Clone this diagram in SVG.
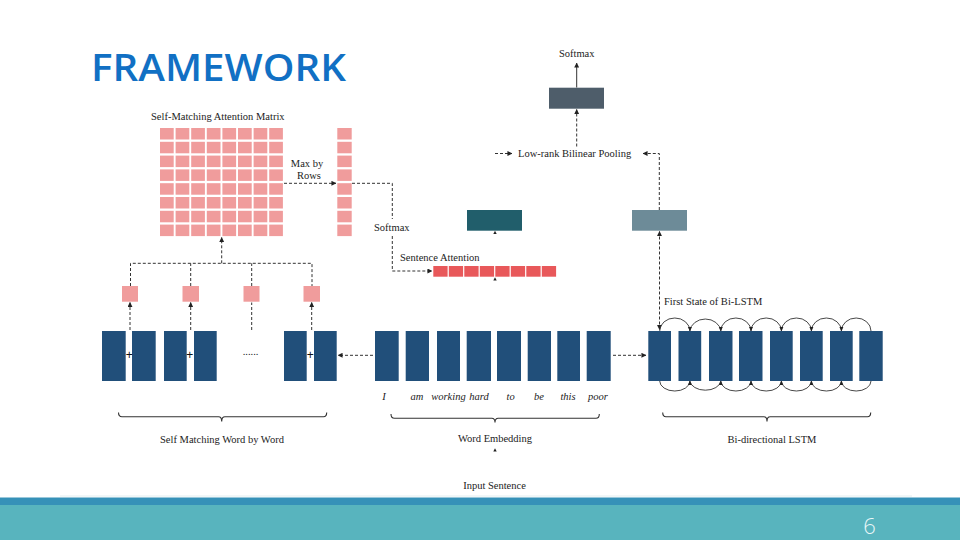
<svg xmlns="http://www.w3.org/2000/svg" xmlns:xlink="http://www.w3.org/1999/xlink" width="960" height="540" viewBox="0 0 960 540">
<style>
.lbl{font-family:"Liberation Serif","Times New Roman",serif;font-size:10.5px;fill:#222}
.wd{font-family:"Liberation Serif","Times New Roman",serif;font-size:10.5px;font-style:italic;fill:#222}
.pl{font-family:"Liberation Sans",Arial,sans-serif;font-size:12px;fill:#111}
.mc{fill:#F09C9C}
.sa{fill:#E8585A}
.nv{fill:#214F7A}
.dash{fill:none;stroke:#333;stroke-width:1;stroke-dasharray:3 2}
.solid{fill:none;stroke:#333;stroke-width:1}
.brk{fill:none;stroke:#333;stroke-width:1.1}
.arc{fill:none;stroke:#333;stroke-width:0.9}
.ah{fill:#222}
</style>
<defs>
<marker id="arr" viewBox="0 0 6 6" refX="5.5" refY="3" markerWidth="5" markerHeight="5" markerUnits="userSpaceOnUse" orient="auto-start-reverse">
<path d="M0,0 L6,3 L0,6 z" fill="#222"/>
</marker>
<g id="mrow">
<rect class="mc" x="160" y="0" width="13.7" height="11.5"/>
<rect class="mc" x="175.6" y="0" width="13.7" height="11.5"/>
<rect class="mc" x="191.2" y="0" width="13.7" height="11.5"/>
<rect class="mc" x="206.8" y="0" width="13.7" height="11.5"/>
<rect class="mc" x="222.4" y="0" width="13.7" height="11.5"/>
<rect class="mc" x="238" y="0" width="13.7" height="11.5"/>
<rect class="mc" x="253.6" y="0" width="13.7" height="11.5"/>
<rect class="mc" x="269.2" y="0" width="13.7" height="11.5"/>
</g>
</defs>
<rect x="0" y="0" width="960" height="540" fill="#ffffff"/>

<g id="title">
<text x="91" y="80.5" font-family="'Open Sans','Liberation Sans',sans-serif" font-weight="600" font-size="37" fill="#1170C4" textLength="255" lengthAdjust="spacingAndGlyphs">FRAMEWORK</text>
</g>

<g id="attention-matrix">
<text class="lbl" x="151" y="119.5">Self-Matching  Attention Matrix</text>
<use xlink:href="#mrow" href="#mrow" y="128"/>
<use xlink:href="#mrow" href="#mrow" y="141.8"/>
<use xlink:href="#mrow" href="#mrow" y="155.6"/>
<use xlink:href="#mrow" href="#mrow" y="169.4"/>
<use xlink:href="#mrow" href="#mrow" y="183.2"/>
<use xlink:href="#mrow" href="#mrow" y="197"/>
<use xlink:href="#mrow" href="#mrow" y="210.8"/>
<use xlink:href="#mrow" href="#mrow" y="224.6"/>
</g>

<g id="max-vector">
<rect class="mc" x="337.3" y="128" width="14.4" height="11.5"/>
<rect class="mc" x="337.3" y="141.8" width="14.4" height="11.5"/>
<rect class="mc" x="337.3" y="155.6" width="14.4" height="11.5"/>
<rect class="mc" x="337.3" y="169.4" width="14.4" height="11.5"/>
<rect class="mc" x="337.3" y="183.2" width="14.4" height="11.5"/>
<rect class="mc" x="337.3" y="197" width="14.4" height="11.5"/>
<rect class="mc" x="337.3" y="210.8" width="14.4" height="11.5"/>
<rect class="mc" x="337.3" y="224.6" width="14.4" height="11.5"/>
</g>

<g id="sentence-attention">
<text class="lbl" x="400" y="261">Sentence  Attention</text>
<rect class="sa" x="433.3" y="266" width="14.3" height="10.7"/>
<rect class="sa" x="448.8" y="266" width="14.3" height="10.7"/>
<rect class="sa" x="464.3" y="266" width="14.3" height="10.7"/>
<rect class="sa" x="479.8" y="266" width="14.3" height="10.7"/>
<rect class="sa" x="495.3" y="266" width="14.3" height="10.7"/>
<rect class="sa" x="510.8" y="266" width="14.3" height="10.7"/>
<rect class="sa" x="526.3" y="266" width="14.3" height="10.7"/>
<rect class="sa" x="541.8" y="266" width="14.3" height="10.7"/>
</g>

<g id="output-node">
<rect x="549" y="87.7" width="55" height="21" fill="#4E5D6A"/>
</g>
<g id="sentence-vector">
<rect x="467" y="210" width="55" height="20.7" fill="#215E6B"/>
</g>
<g id="lstm-state">
<rect x="632" y="210" width="55" height="20.7" fill="#6D8B98"/>
</g>

<g id="match-squares">
<rect class="mc" x="122" y="286" width="16" height="15.7"/>
<rect class="mc" x="182.5" y="286" width="16.5" height="15.7"/>
<rect class="mc" x="243.5" y="286" width="16" height="15.7"/>
<rect class="mc" x="303.5" y="286" width="16.5" height="15.7"/>
</g>

<g id="self-matching">
<rect class="nv" x="102" y="331" width="23.7" height="50"/>
<rect class="nv" x="132" y="331" width="23.7" height="50"/>
<rect class="nv" x="164" y="331" width="22.7" height="50"/>
<rect class="nv" x="194" y="331" width="22.7" height="50"/>
<rect class="nv" x="284" y="331" width="22.7" height="50"/>
<rect class="nv" x="314" y="331" width="22.7" height="50"/>
<text class="pl" x="129.3" y="358.5" text-anchor="middle">+</text>
<text class="pl" x="189.7" y="358.5" text-anchor="middle">+</text>
<text class="pl" x="310.3" y="359" text-anchor="middle">+</text>
<text class="lbl" x="250.5" y="355" text-anchor="middle" font-size="9">......</text>
</g>

<g id="word-embedding">
<rect class="nv" x="375" y="331" width="23.7" height="50"/>
<rect class="nv" x="405.7" y="331" width="23.3" height="50"/>
<rect class="nv" x="437" y="331" width="23" height="50"/>
<rect class="nv" x="466.7" y="331" width="24.3" height="50"/>
<rect class="nv" x="497" y="331" width="24" height="50"/>
<rect class="nv" x="527.7" y="331" width="23.3" height="50"/>
<rect class="nv" x="557.3" y="331" width="22.7" height="50"/>
<rect class="nv" x="586.7" y="331" width="24" height="50"/>
<text class="wd" x="384" y="399.5" text-anchor="middle">I</text>
<text class="wd" x="417" y="399.5" text-anchor="middle">am</text>
<text class="wd" x="448.5" y="399.5" text-anchor="middle">working</text>
<text class="wd" x="479" y="399.5" text-anchor="middle">hard</text>
<text class="wd" x="510.7" y="399.5" text-anchor="middle">to</text>
<text class="wd" x="539" y="399.5" text-anchor="middle">be</text>
<text class="wd" x="568" y="399.5" text-anchor="middle">this</text>
<text class="wd" x="598" y="399.5" text-anchor="middle">poor</text>
</g>

<g id="bi-lstm">
<rect class="nv" x="648.3" y="331" width="22.7" height="50"/>
<rect class="nv" x="678.5" y="331" width="22.7" height="50"/>
<rect class="nv" x="709" y="331" width="23.5" height="50"/>
<rect class="nv" x="739" y="331" width="23.5" height="50"/>
<rect class="nv" x="770" y="331" width="22.7" height="50"/>
<rect class="nv" x="800" y="331" width="22.7" height="50"/>
<rect class="nv" x="830" y="331" width="22.7" height="50"/>
<rect class="nv" x="859.3" y="331" width="23.4" height="50"/>
<text class="lbl" x="664" y="305">First State of Bi-LSTM</text>
</g>

<g id="labels">
<text class="lbl" x="307" y="167" text-anchor="middle">Max by</text>
<text class="lbl" x="309" y="178.5" text-anchor="middle">Rows</text>
<text class="lbl" x="374" y="231">Softmax</text>
<text class="lbl" x="576.7" y="57" text-anchor="middle">Softmax</text>
<text class="lbl" x="518" y="156.5">Low-rank Bilinear  Pooling</text>
<text class="lbl" x="222" y="443" text-anchor="middle">Self Matching  Word by Word</text>
<text class="lbl" x="495" y="442" text-anchor="middle">Word Embedding</text>
<text class="lbl" x="494.5" y="488.5" text-anchor="middle">Input Sentence</text>
<text class="lbl" x="772" y="443" text-anchor="middle">Bi-directional  LSTM</text>
</g>

<g id="connectors">
<path class="dash" d="M284,183.3 H336" marker-end="url(#arr)"/>
<path class="dash" d="M352,183.3 H392.3 V219"/>
<path class="dash" d="M392.3,236 V271 H432" marker-end="url(#arr)"/>
<path class="dash" d="M130,330 V302.5" marker-end="url(#arr)"/>
<path class="dash" d="M190.7,330 V302.5" marker-end="url(#arr)"/>
<path class="dash" d="M251.7,330 V302.5"/>
<path class="dash" d="M311.7,330 V302.5" marker-end="url(#arr)"/>
<path class="dash" d="M130.5,286 V263.3 H312 V286"/>
<path class="dash" d="M190.7,286 V263.3"/>
<path class="dash" d="M251.7,286 V263.3"/>
<path class="dash" d="M221.7,263.3 V237.5" marker-end="url(#arr)"/>
<path class="dash" d="M373,355.3 H338" marker-end="url(#arr)"/>
<path class="dash" d="M613,355.3 H646" marker-end="url(#arr)"/>
<path class="dash" d="M659.5,329.5 V231.5" marker-start="url(#arr)" marker-end="url(#arr)"/>
<path class="dash" d="M659.3,210 V153.5 H643" marker-end="url(#arr)"/>
<path class="dash" d="M495,153.5 H512" marker-end="url(#arr)"/>
<path class="dash" d="M576.7,146.5 V109.5" marker-end="url(#arr)"/>
<path class="solid" d="M576.7,87.5 V63" marker-end="url(#arr)"/>
<path class="ah" d="M493.3,234 L495,230.8 L496.7,234 z"/>
<path class="ah" d="M493.3,280.5 L495,277.3 L496.7,280.5 z"/>
<path class="ah" d="M493.3,451.5 L495,448.3 L496.7,451.5 z"/>
<path class="arc" d="M659.7,331 A15.1 13 0 0 1 689.9,331"/>
<path class="arc" d="M689.9,331 A15.5 13 0 0 1 720.8,331"/>
<path class="arc" d="M720.8,331 A15.1 13 0 0 1 751,331"/>
<path class="arc" d="M751,331 A15.2 13 0 0 1 781.4,331"/>
<path class="arc" d="M781.4,331 A15 13 0 0 1 811.4,331"/>
<path class="arc" d="M811.4,331 A15 13 0 0 1 841.4,331"/>
<path class="arc" d="M841.4,331 A14.8 13 0 0 1 871,331"/>
<path class="ah" d="M687.9,327 L689.9,331 L691.9,327 z"/>
<path class="ah" d="M718.8,327 L720.8,331 L722.8,327 z"/>
<path class="ah" d="M749,327 L751,331 L753,327 z"/>
<path class="ah" d="M779.4,327 L781.4,331 L783.4,327 z"/>
<path class="ah" d="M809.4,327 L811.4,331 L813.4,327 z"/>
<path class="ah" d="M839.4,327 L841.4,331 L843.4,327 z"/>
<path class="arc" d="M659.7,381 A15.1 10 0 0 0 689.9,381"/>
<path class="arc" d="M689.9,381 A15.5 10 0 0 0 720.8,381"/>
<path class="arc" d="M720.8,381 A15.1 10 0 0 0 751,381"/>
<path class="arc" d="M751,381 A15.2 10 0 0 0 781.4,381"/>
<path class="arc" d="M781.4,381 A15 10 0 0 0 811.4,381"/>
<path class="arc" d="M811.4,381 A15 10 0 0 0 841.4,381"/>
<path class="arc" d="M841.4,381 A14.8 10 0 0 0 871,381"/>
<path class="ah" d="M687.9,385 L689.9,381 L691.9,385 z"/>
<path class="ah" d="M718.8,385 L720.8,381 L722.8,385 z"/>
<path class="ah" d="M749,385 L751,381 L753,385 z"/>
<path class="ah" d="M779.4,385 L781.4,381 L783.4,385 z"/>
<path class="ah" d="M809.4,385 L811.4,381 L813.4,385 z"/>
<path class="ah" d="M839.4,385 L841.4,381 L843.4,385 z"/>
<path class="brk" d="M118.5,412.5 Q118.5,416.7 122,416.7 H218.5 Q221.7,416.7 221.7,421.5 Q221.7,416.7 225,416.7 H323.5 Q326.7,416.7 326.7,412.5"/>
<path class="brk" d="M391,414 Q391,418.3 394.5,418.3 H491.8 Q495,418.3 495,422.5 Q495,418.3 498.2,418.3 H596 Q599.3,418.3 599.3,414"/>
<path class="brk" d="M662.7,412.5 Q662.7,416.7 666,416.7 H763.8 Q767,416.7 767,421.5 Q767,416.7 770.2,416.7 H867.5 Q870.7,416.7 870.7,412.5"/>
</g>

<g id="footer">
<line x1="60" y1="496" x2="912" y2="496" stroke="#E3EEF0" stroke-width="1"/>
<rect x="0" y="497.5" width="960" height="7.5" fill="#3691B8"/>
<rect x="0" y="505" width="960" height="35" fill="#58B4BE"/>
<text x="869.5" y="533.5" text-anchor="middle" font-family="'Open Sans','Liberation Sans',sans-serif" font-weight="300" font-size="22" fill="#EAF7F8">6</text>
</g>
</svg>
